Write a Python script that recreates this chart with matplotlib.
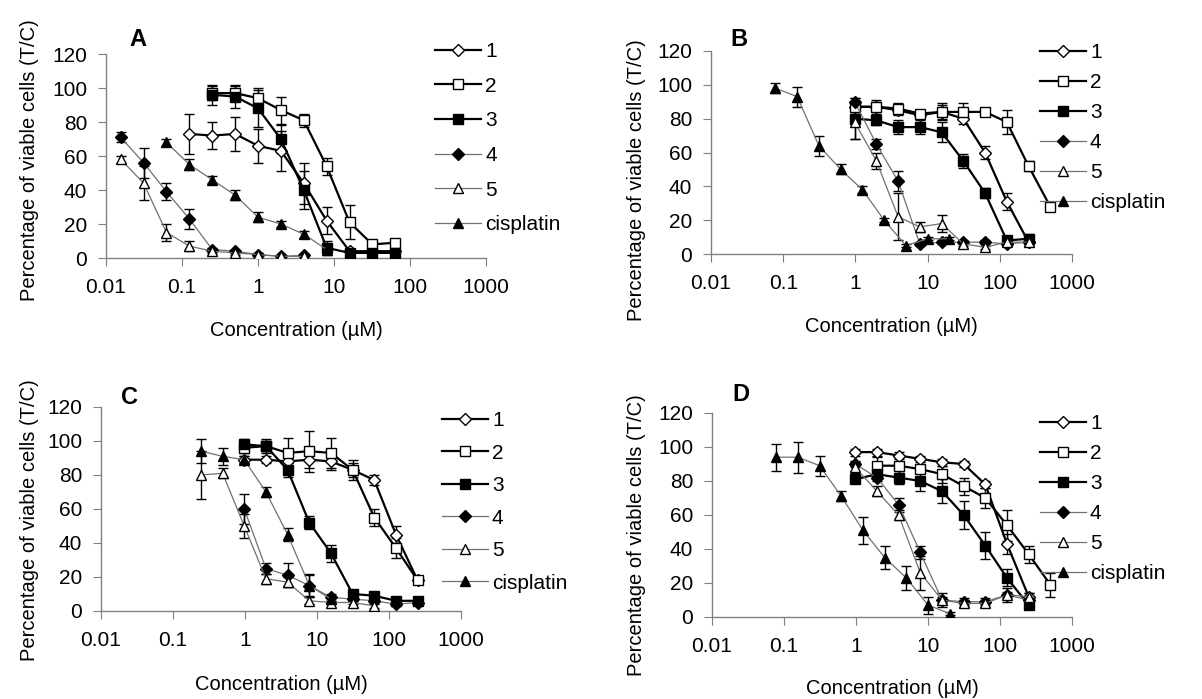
import numpy as np
import matplotlib
matplotlib.use('Agg')
import matplotlib.pyplot as plt

plt.rcParams['font.family'] = ['Liberation Sans', 'DejaVu Sans']
plt.rcParams['font.size'] = 14

W, H = 1202, 699

# ---------------------------------------------------------------- data
# concentrations (uM): 2-fold dilution series
conc_a = 2.0 ** np.arange(-6, 7)               # 0.0156 .. 64
conc_cis = 0.078125 * 2.0 ** np.arange(0, 9)   # 0.078 .. 20
conc_cmp = 250 / 256 * 2.0 ** np.arange(-2, 10)  # 0.244 .. 500

series_names = ['1', '2', '3', '4', '5', 'cisplatin']

# panel A  (x, y, err)
A1_x = conc_a[3:13]; A1 = [73, 72, 73, 66, 63, 44, 22, 4, 4, 4]; A1_e = [12, 8, 10, 10, 12, 12, 8, 1, 1, 1]
A2_x = conc_a[4:13]; A2 = [97, 97, 94, 87, 81, 54, 21, 8, 9]; A2_e = [4, 4, 6, 8, 4, 5, 10, 2, 2]
A3_x = conc_a[4:13]; A3 = [96, 95, 88, 70, 40, 6, 3, 3, 3]; A3_e = [6, 7, 11, 8, 11, 4, 1, 1, 1]
A4_x = conc_a[0:9]; A4 = [71, 56, 39, 23, 5, 4, 2, 1, 1.5]; A4_e = [3, 9, 5, 6, 1, 1, 1, 1, 1]
A5_x = conc_a[0:9]; A5 = [58, 44, 15, 7, 4, 3, 2, 1, 1]; A5_e = [2, 10, 5, 3, 1, 1, 1, 1, 1]
Acis_x = conc_a[2:10]; Acis = [68, 55, 46, 37, 24, 20, 14, 5]; Acis_e = [2, 3, 2, 3, 3, 2, 2, 1]

# panel B
B1_x = conc_cmp[2:11]; B1 = [87, 87, 85, 82, 84, 80, 60, 31, 7]; B1_e = [3, 3, 3, 2, 4, 3, 4, 5, 2]
B2_x = conc_cmp[2:12]; B2 = [87, 87, 86, 83, 84, 84, 84, 78, 52, 28]; B2_e = [3, 4, 3, 2, 5, 5, 2, 7, 3, 2]
B3_x = conc_cmp[2:11]; B3 = [80, 79, 75, 75, 72, 55, 36, 8, 9]; B3_e = [12, 3, 4, 4, 6, 4, 3, 2, 3]
B4_x = conc_cmp[2:11]; B4 = [90, 65, 43, 6, 7, 7, 7, 6, 7]; B4_e = [2, 3, 6, 1, 1, 1, 1, 1, 1]
B5_x = conc_cmp[2:11]; B5 = [78, 55, 22, 16, 18, 6, 4, 7, 7]; B5_e = [10, 5, 14, 3, 5, 1, 1, 1, 1]
Bcis_x = conc_cis; Bcis = [98, 93, 64, 50, 38, 20, 5, 9, 9]; Bcis_e = [3, 6, 6, 3, 2, 1, 1, 1, 1]

# panel C
C1_x = conc_cmp[2:11]; C1 = [89, 89, 88, 89, 88, 83, 77, 45, 18]; C1_e = [2, 2, 3, 5, 5, 6, 3, 5, 2]
C2_x = conc_cmp[2:11]; C2 = [96, 97, 93, 94, 93, 83, 55, 37, 18]; C2_e = [3, 4, 9, 12, 9, 4, 5, 6, 2]
C3_x = conc_cmp[2:11]; C3 = [98, 97, 83, 52, 34, 10, 9, 6, 6]; C3_e = [3, 3, 4, 4, 5, 2, 2, 1, 1]
C4_x = conc_cmp[2:11]; C4 = [60, 25, 21, 15, 8, 7, 6, 4, 5]; C4_e = [9, 3, 7, 7, 2, 1, 1, 1, 1]
C5_x = conc_cmp[0:9]; C5 = [80, 81, 50, 19, 17, 6, 5, 5, 3]; C5_e = [14, 3, 7, 3, 3, 2, 1, 1, 1]
Ccis_x = conc_cmp[0:7]; Ccis = [94, 91, 89, 70, 45, 15, 7]; Ccis_e = [7, 5, 2, 3, 4, 6, 2]

# panel D
D1_x = conc_cmp[2:11]; D1 = [97, 97, 95, 93, 91, 90, 78, 43, 12]; D1_e = [2, 2, 2, 2, 2, 2, 2, 6, 2]
D2_x = conc_cmp[3:12]; D2 = [89, 89, 87, 84, 77, 70, 54, 37, 19]; D2_e = [5, 5, 6, 5, 5, 6, 9, 5, 7]
D3_x = conc_cmp[2:11]; D3 = [81, 84, 82, 80, 74, 60, 42, 23, 7]; D3_e = [2, 3, 4, 6, 7, 8, 8, 5, 2]
D4_x = conc_cmp[2:11]; D4 = [90, 82, 66, 38, 10, 9, 9, 13, 10]; D4_e = [2, 2, 4, 4, 4, 2, 2, 4, 2]
D5_x = conc_cmp[2:11]; D5 = [88, 74, 60, 26, 10, 8, 8, 13, 12]; D5_e = [3, 3, 3, 10, 2, 2, 2, 2, 2]
Dcis_x = conc_cis; Dcis = [94, 94, 89, 71, 51, 35, 23, 7, 2]; Dcis_e = [8, 9, 6, 3, 8, 7, 7, 5, 1]

panels = {
    'A': [(A1_x, A1, A1_e), (A2_x, A2, A2_e), (A3_x, A3, A3_e), (A4_x, A4, A4_e), (A5_x, A5, A5_e), (Acis_x, Acis, Acis_e)],
    'B': [(B1_x, B1, B1_e), (B2_x, B2, B2_e), (B3_x, B3, B3_e), (B4_x, B4, B4_e), (B5_x, B5, B5_e), (Bcis_x, Bcis, Bcis_e)],
    'C': [(C1_x, C1, C1_e), (C2_x, C2, C2_e), (C3_x, C3, C3_e), (C4_x, C4, C4_e), (C5_x, C5, C5_e), (Ccis_x, Ccis, Ccis_e)],
    'D': [(D1_x, D1, D1_e), (D2_x, D2, D2_e), (D3_x, D3, D3_e), (D4_x, D4, D4_e), (D5_x, D5, D5_e), (Dcis_x, Dcis, Dcis_e)],
}

# ---------------------------------------------------------------- styles
markers = ['D', 's', 's', 'D', '^', '^']
faces = ['white', 'white', 'black', 'black', 'white', 'black']
sizes = [6.5, 7, 7, 6.5, 7.5, 7.5]
line_c = ['black', 'black', 'black', '#707070', '#707070', '#707070']
line_w = [1.6, 1.6, 1.6, 0.9, 0.9, 0.9]

# axes boxes in pixels: left, right, top, bottom
boxes = {'A': (106, 486, 54, 258),
         'B': (711, 1072, 51, 254),
         'C': (101, 461, 407, 611),
         'D': (712, 1072, 413, 617)}
letter_pos = {'A': (138, 40), 'B': (739, 40), 'C': (129, 397), 'D': (741, 395)}
# legend anchor (top-left, pixels) and row spacing
legend_pos = {'A': (435, 42), 'B': (1040, 43), 'C': (442, 411), 'D': (1040, 414)}
legend_gap = {'A': 0.75, 'B': 0.53, 'C': 0.65, 'D': 0.53}
ylab_pos = {'A': (30, 160), 'B': (636, 180), 'C': (30, 520), 'D': (636, 535)}
xlab_y = {'A': 331, 'B': 327, 'C': 684, 'D': 689}

fig = plt.figure(figsize=(W / 100, H / 100), dpi=100)

for key, data in panels.items():
    l, r, t, b = boxes[key]
    ax = fig.add_axes([l / W, 1 - b / H, (r - l) / W, (b - t) / H])
    for i, (x, y, e) in enumerate(data):
        ax.errorbar(x, y, yerr=e, fmt='none', ecolor='black', elinewidth=1,
                    capsize=3.5, capthick=1, zorder=2)
        ax.plot(x, y, color=line_c[i], lw=line_w[i], marker=markers[i],
                ms=sizes[i], mfc=faces[i], mec='black', mew=1,
                label=series_names[i], zorder=3)
    ax.set_xscale('log')
    ax.set_xlim(0.01, 1000)
    ax.set_ylim(0, 120)
    ax.set_xticks([0.01, 0.1, 1, 10, 100, 1000])
    ax.set_xticklabels(['0.01', '0.1', '1', '10', '100', '1000'])
    ax.xaxis.set_minor_locator(matplotlib.ticker.NullLocator())
    ax.set_yticks(np.arange(0, 121, 20))
    for s in ['top', 'right']:
        ax.spines[s].set_visible(False)
    for s in ['left', 'bottom']:
        ax.spines[s].set_color('#808080')
        ax.spines[s].set_linewidth(1)
    ax.tick_params(axis='x', direction='out', length=5.5, color='#808080', labelsize=15, pad=9)
    ax.tick_params(axis='y', direction='out', length=5.5, color='#808080', labelsize=15, pad=8)
    ax.patch.set_alpha(0)

    fig.text(letter_pos[key][0] / W, 1 - letter_pos[key][1] / H, key,
             fontsize=17, fontweight='bold', ha='center', va='center')
    fig.text(ylab_pos[key][0] / W, 1 - ylab_pos[key][1] / H, 'Percentage of viable cells (T/C)',
             rotation=90, ha='center', va='center', fontsize=14.5)
    fig.text((l + r) / 2 / W, 1 - xlab_y[key] / H, 'Concentration (\u00b5M)',
             ha='center', va='center', fontsize=14.5)
    fig.legend(*ax.get_legend_handles_labels(), loc='upper left',
               bbox_to_anchor=(legend_pos[key][0] / W, 1 - legend_pos[key][1] / H),
               frameon=False, fontsize=15, handlelength=2.2, handletextpad=0.2,
               labelspacing=legend_gap[key], borderaxespad=0, borderpad=0)

fig.savefig('out.png', dpi=100)
